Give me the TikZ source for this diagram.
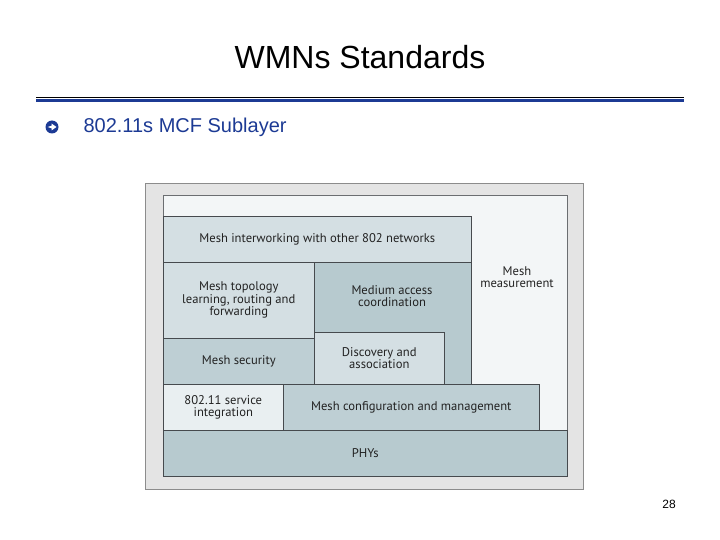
\documentclass[tikz,border=0pt]{standalone}
\usepackage{fontspec}
\setmainfont{Liberation Sans}
\newfontfamily\figfont{PT Sans}
\usepackage{xcolor}
\usepackage{tikz}
\usetikzlibrary{positioning}
\definecolor{slideblue}{RGB}{28,58,148}
\definecolor{framefill}{RGB}{228,228,228}
\definecolor{framestroke}{RGB}{140,140,140}
\definecolor{panelfill}{RGB}{243,246,247}
\definecolor{layerlight}{RGB}{212,223,227}
\definecolor{layermid}{RGB}{190,207,212}
\definecolor{layerdark}{RGB}{183,202,207}
\definecolor{layerpale}{RGB}{233,239,241}
\definecolor{layerline}{RGB}{70,74,78}
\definecolor{figtext}{RGB}{34,34,34}

\begin{document}
\begin{tikzpicture}[x=1pt, y=-1pt,
  layer/.style={draw=layerline, line width=0.6pt, anchor=north west,
    inner sep=0pt, align=center, text=figtext,
    font=\figfont\fontsize{12.6}{12.4}\selectfont},
  flabel/.style={align=center, text=figtext,
    font=\figfont\fontsize{12.6}{12.4}\selectfont}
]
\useasboundingbox[fill=white] (0,0) rectangle (720,540);
% Slide heading and rules
\node (title) at (360,57) {\fontsize{32}{36}\selectfont WMNs Standards};
\draw[black, line width=0.8pt] (36,97) -- (684,97);
\draw[slideblue, line width=3pt] (36,100.5) -- (684,100.5);
% Bullet: round arrow mark
\node[circle, fill=slideblue, inner sep=0pt, minimum size=13] (bullet) at (52,127) {};
\fill[white] ([xshift=-4.5]bullet.center) -- ++(4,-1.3) -- ++(0,-2.2) -- ++(5,3.5)
  -- ++(-5,3.5) -- ++(0,-2.2) -- ++(-4,-1.3) -- cycle;
\node[text=slideblue, anchor=west] (sub) at (80,127)
  {\fontsize{20}{24}\selectfont 802.11s MCF Sublayer};
% Figure frame and panel
\node[draw=framestroke, fill=framefill, line width=0.8pt, anchor=north west,
  minimum width=438, minimum height=306] (frame) at (145,183) {};
\node[draw=layerline!80, fill=panelfill, line width=0.6pt, anchor=north west,
  minimum width=404, minimum height=281] (panel) at (163,195) {};
% Layer blocks
\node[layer, fill=layerlight, minimum width=308, minimum height=46]
  (interwork) at (163,216) {Mesh interworking with other 802 networks};
\node[layer, fill=layerlight, minimum width=151, minimum height=76]
  (topology) at (163,262) {Mesh topology\\learning, routing and\\forwarding};
\node[layer, fill=layerdark, minimum width=157, minimum height=122]
  (access) at (314,262) {};
\node[flabel] (accesslbl) at (392,296) {Medium access\\coordination};
\node[layer, fill=layermid, minimum width=151, minimum height=46]
  (security) at (163,338) {Mesh security};
\node[layer, fill=layerlight, minimum width=130, minimum height=52]
  (discovery) at (314,332) {Discovery and\\association};
\node[layer, fill=layerpale, minimum width=120, minimum height=46]
  (service) at (163,384) {802.11 service\\integration};
\node[layer, fill=layermid, minimum width=256, minimum height=46]
  (config) at (283,384) {Mesh configuration and management};
\node[layer, fill=layerdark, minimum width=404, minimum height=46]
  (phys) at (163,430) {PHYs};
\node[flabel] (measure) at (517,277) {Mesh\\measurement};
% Page number
\node (pagenum) at (669,504) {\fontsize{12}{14}\selectfont 28};
\end{tikzpicture}
\end{document}
